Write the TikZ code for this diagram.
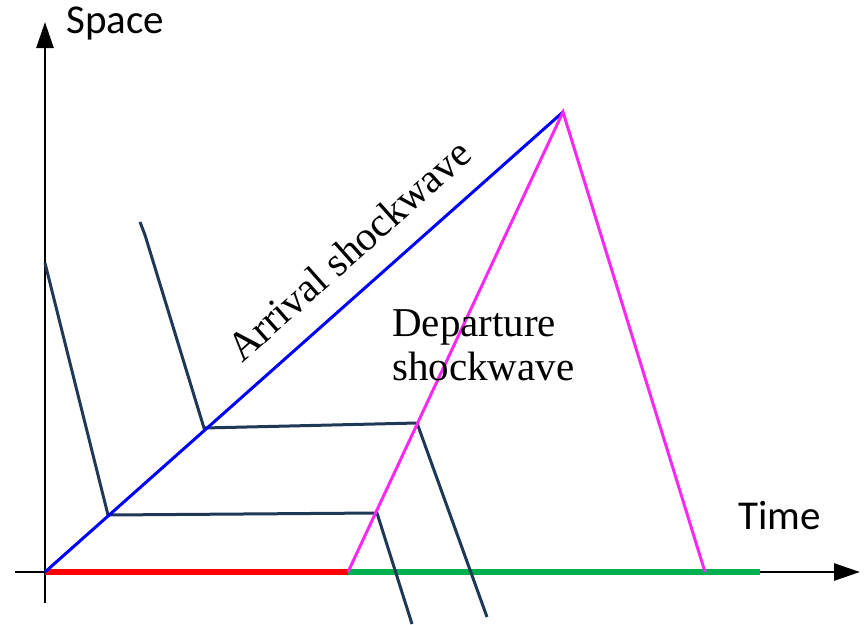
\documentclass[tikz,border=0pt]{standalone}
\usepackage{fontspec}
\setmainfont{Liberation Serif}
\newfontfamily\calib{Carlito}
\usetikzlibrary{arrows.meta}
\definecolor{navy}{RGB}{31,56,85}
\definecolor{mag}{RGB}{250,40,245}
\definecolor{grn}{RGB}{0,176,80}
\begin{document}
\begin{tikzpicture}[x=1pt,y=-1pt,
  axis/.style={line width=2.6pt,-{Triangle[length=26pt,width=17pt]}},
  traj/.style={navy,line width=3pt,line join=miter},
  wave/.style={line width=3pt},
  lbl/.style={font=\calib\fontsize{41}{49}\selectfont,inner sep=0pt},
  serif/.style={font=\fontsize{41}{44}\selectfont,inner sep=0pt}]
\useasboundingbox (0,0) rectangle (864,624);
% coordinates
\coordinate (O) at (45,572);
\coordinate (ybot) at (45,603);
\coordinate (ytop) at (45,22);
\coordinate (xl) at (15,572);
\coordinate (xr) at (860,572);
\coordinate (P) at (563,112);
\coordinate (D) at (348,572);
\coordinate (F) at (705,572);
\coordinate (G) at (760,572);
\coordinate (a1) at (45,263);
\coordinate (a2) at (108,515);
\coordinate (a3) at (377,513);
\coordinate (a4) at (412,624);
\coordinate (b0) at (140,222);
\coordinate (b1) at (145,235);
\coordinate (b2) at (204,428);
\coordinate (b3) at (417,423);
\coordinate (b4) at (487,617);
% axes
\draw[axis] (ybot) -- (ytop);
\draw[axis] (xl) -- (xr);
% ground segments
\draw[red,line width=5.5pt] (O) -- (D);
\draw[grn,line width=5.5pt] (D) -- (G);
% trajectories
\draw[traj] (a1) -- (a2) -- (a3) -- (a4);
\draw[traj] (b0) -- (b1) -- (b2) -- (b3) -- (b4);
% shockwaves
\draw[wave,blue] (O) -- (P);
\draw[wave,mag] (D) -- (P) -- (F);
% labels
\node[lbl,anchor=west] (space) at (66,23) {Space};
\node[lbl,anchor=west] (time) at (738,516) {Time};
\node[serif,rotate=41.6] (arr) at (349,250) {Arrival shockwave};
\node[serif,align=left,anchor=north west] (dep) at (392,309) {Departure\\shockwave};
\end{tikzpicture}
\end{document}
